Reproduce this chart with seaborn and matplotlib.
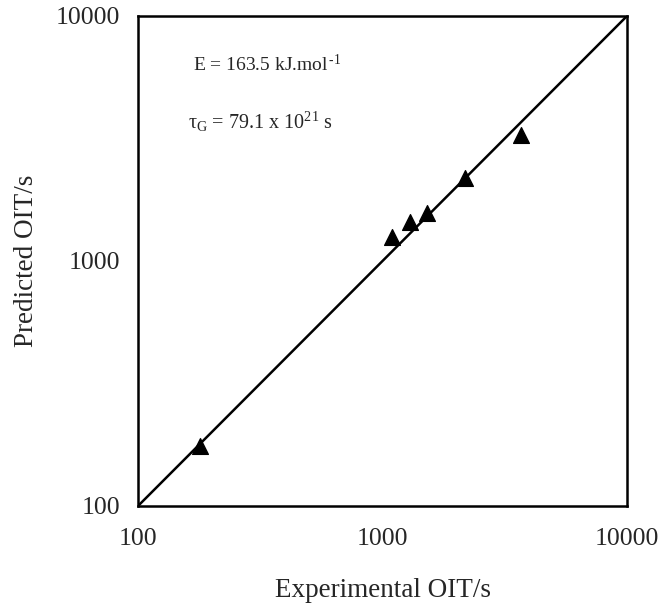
import matplotlib
matplotlib.use("Agg")
import matplotlib.pyplot as plt
import seaborn as sns
import numpy as np
import pandas as pd
from matplotlib.ticker import LogLocator, NullFormatter, FixedLocator, FixedFormatter

experimental = [179, 1094, 1295, 1520, 2173, 3680]
predicted = [175, 1253, 1442, 1570, 2183, 3266]
ticks = [100, 1000, 10000]
tick_labels = ["100", "1000", "10000"]
line_range = [100, 10000]

sns.set_theme(style="white")
plt.rcParams['font.family'] = ['Liberation Serif', 'DejaVu Serif']
plt.rcParams['mathtext.fontset'] = 'custom'
plt.rcParams['mathtext.rm'] = 'Liberation Serif'
plt.rcParams['mathtext.it'] = 'Liberation Serif:italic'
plt.rcParams['mathtext.bf'] = 'Liberation Serif:bold'

df = pd.DataFrame({"Experimental OIT/s": experimental, "Predicted OIT/s": predicted})

fig = plt.figure(figsize=(6.61, 6.03), dpi=100)
ax = fig.add_axes([0.2088, 0.1609, 0.7398, 0.8126])

sns.lineplot(x=line_range, y=line_range, ax=ax, color="black", linewidth=1.8)
sns.scatterplot(data=df, x="Experimental OIT/s", y="Predicted OIT/s", ax=ax,
                marker="^", s=130, color="black", edgecolor="black", zorder=3)

ax.set_xscale("log")
ax.set_yscale("log")
ax.set_xlim(100, 10000)
ax.set_ylim(100, 10000)
ax.xaxis.set_major_locator(FixedLocator(ticks))
ax.yaxis.set_major_locator(FixedLocator(ticks))
ax.xaxis.set_major_formatter(FixedFormatter(tick_labels))
ax.yaxis.set_major_formatter(FixedFormatter(tick_labels))
ax.xaxis.set_minor_locator(LogLocator(base=10, subs=np.arange(2, 10)))
ax.yaxis.set_minor_locator(LogLocator(base=10, subs=np.arange(2, 10)))
ax.xaxis.set_minor_formatter(NullFormatter())
ax.yaxis.set_minor_formatter(NullFormatter())
ax.tick_params(which="both", direction="in", top=False, right=False, color="black")
ax.tick_params(which="major", length=6, width=1.2, labelsize=18.5)
ax.tick_params(axis="x", which="major", pad=16)
ax.tick_params(axis="y", which="major", pad=13)
ax.tick_params(which="minor", length=4, width=1.0)

for s in ax.spines.values():
    s.set_color("black")
    s.set_linewidth(1.8)

ax.set_xlabel("Experimental OIT/s", fontsize=19.5, labelpad=20)
ax.set_ylabel("Predicted OIT/s", fontsize=19.5, labelpad=12)

ax.text(0.1125, 0.90, r"E = 163.5 kJ.mol$^{\,\text{-1}}$", transform=ax.transAxes,
        fontsize=14, ha="left", va="center")
ax.text(0.102, 0.784, r"τ$_{\mathregular{G}}$ = 79.1 x 10$^{\mathregular{21}}$ s", transform=ax.transAxes,
        fontsize=14.5, ha="left", va="center")

fig.savefig("out.png", dpi=100)
